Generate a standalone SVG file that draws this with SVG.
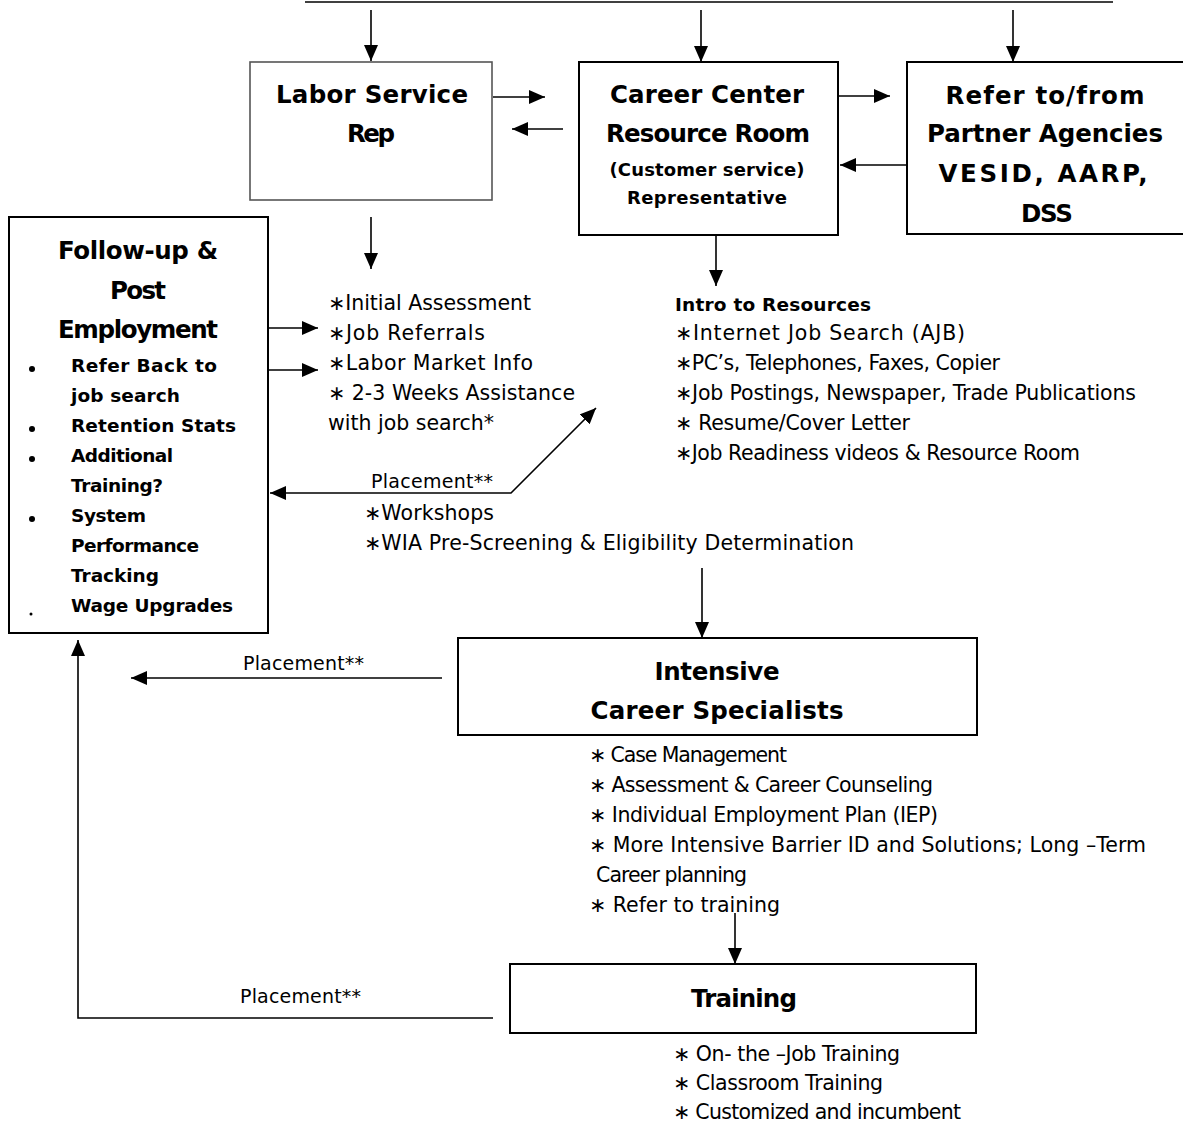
<svg xmlns="http://www.w3.org/2000/svg" width="1183" height="1124" viewBox="0 0 1183 1124">
<defs>
<marker id="ah" markerUnits="userSpaceOnUse" markerWidth="16" markerHeight="14" refX="16" refY="7" orient="auto-start-reverse">
<path d="M0,0 L16,7 L0,14 z" fill="#000"/>
</marker>
<style>
.box{fill:#fff;stroke:#000;stroke-width:2}
.gbox{fill:#fff;stroke:#555;stroke-width:1.6}
.ln{fill:none;stroke:#000;stroke-width:1.6}
.ar{fill:none;stroke:#000;stroke-width:1.6;marker-end:url(#ah)}
.t{font-family:"DejaVu Sans",Verdana,sans-serif;font-weight:bold;font-size:24.5px;fill:#000}
.ts{font-family:"DejaVu Sans",Verdana,sans-serif;font-weight:bold;font-size:18px;fill:#000}
.tb{font-family:"DejaVu Sans",Verdana,sans-serif;font-weight:bold;font-size:18.5px;fill:#000}
.n{font-family:"DejaVu Sans",Verdana,sans-serif;font-size:20.5px;fill:#000}
.p{font-family:"DejaVu Sans",Verdana,sans-serif;font-size:19px;fill:#000}
.c{text-anchor:middle}
</style>
</defs>
<rect width="1183" height="1124" fill="#fff"/>

<g id="connectors">
<line class="ln" x1="305" y1="2" x2="1113" y2="2" stroke-width="2"/>
<line class="ar" x1="371" y1="10" x2="371" y2="61"/>
<line class="ar" x1="701" y1="10" x2="701" y2="62"/>
<line class="ar" x1="1013" y1="10" x2="1013" y2="62"/>
<line class="ar" x1="493" y1="97" x2="545" y2="97"/>
<line class="ar" x1="563" y1="129" x2="512" y2="129"/>
<line class="ar" x1="838" y1="96" x2="890" y2="96"/>
<line class="ar" x1="907" y1="165" x2="840" y2="165"/>
<line class="ar" x1="371" y1="217" x2="371" y2="269"/>
<line class="ar" x1="716" y1="236" x2="716" y2="286"/>
<line class="ar" x1="268" y1="328" x2="318" y2="328"/>
<line class="ar" x1="268" y1="370" x2="318" y2="370"/>
<path class="ar" d="M596,408 L511,493 L270,493" style="marker-start:url(#ah)"/>
<line class="ar" x1="702" y1="568" x2="702" y2="638"/>
<line class="ar" x1="442" y1="678" x2="131" y2="678"/>
<line class="ar" x1="735" y1="913" x2="735" y2="964"/>
<path class="ar" d="M493,1018 L78,1018 L78,640"/>
<text class="p" x="243" y="670" textLength="121">Placement**</text>
<text class="p" x="240" y="1003" textLength="121">Placement**</text>
<text class="p" x="371" y="488" textLength="122">Placement**</text>
</g>

<g id="labor-service-rep">
<rect class="gbox" x="250" y="62" width="242" height="138"/>
<text class="t c" x="372" y="103" textLength="192">Labor Service</text>
<text class="t c" x="371" y="142" textLength="48">Rep</text>
</g>

<g id="career-center">
<rect class="box" x="579" y="62" width="259" height="173"/>
<text class="t c" x="707" y="103" textLength="194">Career Center</text>
<text class="t c" x="708" y="142" textLength="204">Resource Room</text>
<text class="ts c" x="707" y="176" textLength="195">(Customer service)</text>
<text class="ts c" x="707" y="204" textLength="160">Representative</text>
</g>

<g id="partner-agencies">
<rect class="box" x="907" y="62" width="290" height="172"/>
<text class="t c" x="1045" y="104" textLength="199">Refer to/from</text>
<text class="t c" x="1045" y="142" textLength="236">Partner Agencies</text>
<text class="t c" x="1043" y="182" textLength="209">VESID, AARP,</text>
<text class="t c" x="1047" y="222" textLength="52">DSS</text>
</g>

<g id="follow-up">
<rect class="box" x="9" y="217" width="259" height="416"/>
<text class="t c" x="138" y="259" textLength="160">Follow-up &amp;</text>
<text class="t c" x="138" y="299" textLength="56">Post</text>
<text class="t c" x="138" y="338" textLength="160">Employment</text>
<circle cx="32" cy="369" r="3"/>
<circle cx="32" cy="429" r="3"/>
<circle cx="32" cy="459" r="3"/>
<circle cx="32" cy="519" r="3"/>
<circle cx="31" cy="614" r="1.5"/>
<text class="tb" x="71" y="372" textLength="146">Refer Back to</text>
<text class="tb" x="71" y="402" textLength="109">job search</text>
<text class="tb" x="71" y="432" textLength="165">Retention Stats</text>
<text class="tb" x="71" y="462" textLength="102">Additional</text>
<text class="tb" x="71" y="492" textLength="92">Training?</text>
<text class="tb" x="71" y="522" textLength="75">System</text>
<text class="tb" x="71" y="552" textLength="128">Performance</text>
<text class="tb" x="71" y="582" textLength="88">Tracking</text>
<text class="tb" x="71" y="612" textLength="162">Wage Upgrades</text>
</g>

<g id="labor-services-list">
<text class="n" x="328" y="310" textLength="203">∗Initial Assessment</text>
<text class="n" x="328" y="340" textLength="157">∗Job Referrals</text>
<text class="n" x="328" y="370" textLength="205">∗Labor Market Info</text>
<text class="n" x="328" y="400" textLength="247">∗ 2-3 Weeks Assistance</text>
<text class="n" x="328" y="430" textLength="166">with job search*</text>
<text class="n" x="364" y="520" textLength="130">∗Workshops</text>
<text class="n" x="364" y="550" textLength="490">∗WIA Pre-Screening &amp; Eligibility Determination</text>
</g>

<g id="resources-list">
<text class="tb" x="675" y="311" textLength="196">Intro to Resources</text>
<text class="n" x="675" y="340" textLength="290">∗Internet Job Search (AJB)</text>
<text class="n" x="675" y="370" textLength="325">∗PC’s, Telephones, Faxes, Copier</text>
<text class="n" x="675" y="400" textLength="461">∗Job Postings, Newspaper, Trade Publications</text>
<text class="n" x="675" y="430" textLength="235">∗ Resume/Cover Letter</text>
<text class="n" x="675" y="460" textLength="405">∗Job Readiness videos &amp; Resource Room</text>
</g>

<g id="intensive">
<rect class="box" x="458" y="638" width="519" height="97"/>
<text class="t c" x="717" y="680" textLength="125">Intensive</text>
<text class="t c" x="717" y="719" textLength="253">Career Specialists</text>
</g>

<g id="intensive-list">
<text class="n" x="589" y="762" textLength="198">∗ Case Management</text>
<text class="n" x="589" y="792" textLength="344">∗ Assessment &amp; Career Counseling</text>
<text class="n" x="589" y="822" textLength="349">∗ Individual Employment Plan (IEP)</text>
<text class="n" x="589" y="852" textLength="557">∗ More Intensive Barrier ID and Solutions; Long –Term</text>
<text class="n" x="596" y="882" textLength="151">Career planning</text>
<text class="n" x="589" y="912" textLength="191">∗ Refer to training</text>
</g>

<g id="training">
<rect class="box" x="510" y="964" width="466" height="69"/>
<text class="t c" x="744" y="1007" textLength="106">Training</text>
</g>

<g id="training-list">
<text class="n" x="673" y="1061" textLength="227">∗ On- the –Job Training</text>
<text class="n" x="673" y="1090" textLength="210">∗ Classroom Training</text>
<text class="n" x="673" y="1119" textLength="288">∗ Customized and incumbent</text>
</g>
</svg>
